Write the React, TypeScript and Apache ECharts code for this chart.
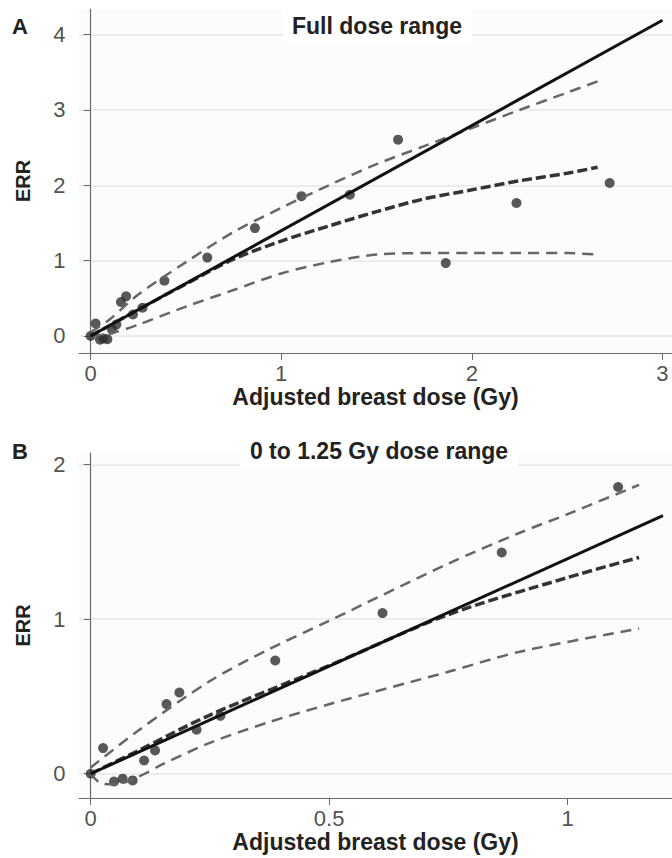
import React, { useEffect, useRef } from "react";
import * as echarts from "echarts";

// Observed data points (adjusted breast dose in Gy, ERR)
const lowDose = [0, 0.026, 0.049, 0.067, 0.088, 0.112, 0.135, 0.159, 0.186, 0.222, 0.272, 0.387, 0.612, 0.862, 1.106];
const lowErr = [0, 0.166, -0.05, -0.032, -0.043, 0.086, 0.151, 0.451, 0.526, 0.285, 0.375, 0.733, 1.04, 1.432, 1.856];
const highDose = [1.36, 1.613, 1.863, 2.234, 2.723];
const highErr = [1.875, 2.606, 0.967, 1.765, 2.03];

// Panel A fitted curves
const fullSolidX = [0, 3.0];
const fullSolidY = [0, 4.19];
const fullCurveX = [0, 0.1, 0.25, 0.5, 0.75, 1, 1.25, 1.5, 1.75, 2, 2.25, 2.5, 2.66];
const fullUpper = [0.05, 0.22, 0.55, 0.98, 1.38, 1.7, 2.0, 2.28, 2.52, 2.76, 3.0, 3.23, 3.38];
const fullCentral = [0, 0.14, 0.35, 0.69, 1.02, 1.26, 1.46, 1.65, 1.82, 1.94, 2.06, 2.16, 2.24];
const fullLower = [0, 0.03, 0.15, 0.39, 0.61, 0.83, 0.98, 1.08, 1.1, 1.1, 1.1, 1.1, 1.08];

// Panel B fitted curves
const lowSolidX = [0, 1.2];
const lowSolidY = [0, 1.67];
const lowUpperX = [0, 0.1, 0.25, 0.37, 0.5, 0.75, 0.9, 1.0, 1.15];
const lowUpper = [0.04, 0.28, 0.6, 0.8, 0.99, 1.36, 1.56, 1.68, 1.87];
const lowCentralX = [0, 0.1, 0.25, 0.5, 0.75, 1.0, 1.15];
const lowCentral = [0, 0.15, 0.38, 0.7, 1.03, 1.27, 1.4];
const lowLowerX = [0, 0.02, 0.05, 0.1, 0.15, 0.25, 0.37, 0.5, 0.75, 0.9, 1.15];
const lowLower = [0, -0.06, -0.07, -0.02, 0.06, 0.2, 0.33, 0.45, 0.66, 0.79, 0.94];

// Tick labels
const fullXTicks = [0, 1, 2, 3];
const fullYTicks = [0, 1, 2, 3, 4];
const lowXTicks = [0, 0.5, 1];
const lowYTicks = [0, 1, 2];

// Axis extents
const fullXRange = [-0.061, 3.05];
const fullYRange = [-0.226, 4.34];
const lowXRange = [-0.0245, 1.219];
const lowYRange = [-0.157, 2.076];

const FONT = "'Liberation Sans', Arial, Helvetica, sans-serif";

const zip = (xs: number[], ys: number[]) => xs.map((x, i) => [x, ys[i]]);

export default function App() {
  const ref = useRef<HTMLDivElement>(null);
  useEffect(() => {
    if (!ref.current) return;
    const chart = echarts.init(ref.current, null, { renderer: "svg" });

    const xAxisBase = (range: number[], ticks: number[], grid: number) => ({
      type: "value",
      gridIndex: grid,
      min: range[0],
      max: range[1],
      axisLine: { show: true, onZero: false, lineStyle: { color: "#6a6a6a", width: 1.2 } },
      axisTick: { show: true, customValues: ticks, length: 7, lineStyle: { color: "#6a6a6a" } },
      axisLabel: { show: false },
      splitLine: { show: false },
      name: "Adjusted breast dose (Gy)",
      nameLocation: "middle",
      nameGap: 32,
      nameTextStyle: { fontSize: 23, fontWeight: "bold", color: "#222", fontFamily: FONT, lineHeight: 24 },
    });
    const yAxisBase = (range: number[], ticks: number[], grid: number) => ({
      type: "value",
      gridIndex: grid,
      min: range[0],
      max: range[1],
      axisLine: { show: true, lineStyle: { color: "#6a6a6a", width: 1.2 } },
      axisTick: { show: true, customValues: ticks, length: 7, lineStyle: { color: "#6a6a6a" } },
      axisLabel: { show: false },
      splitLine: { show: true, lineStyle: { color: "#ececec", width: 2 } },
      name: "ERR",
      nameLocation: "middle",
      nameGap: 46,
      nameRotate: 90,
      nameTextStyle: { fontSize: 20, fontWeight: "bold", color: "#222", fontFamily: FONT },
    });

    const tickLabelSeries = (pts: number[][], xi: number, pos: string, dist: number, idx: number) => ({
      type: "scatter",
      xAxisIndex: xi,
      yAxisIndex: xi,
      data: pts,
      symbolSize: 1,
      silent: true,
      clip: false,
      itemStyle: { color: "rgba(0,0,0,0)" },
      label: {
        show: true,
        position: pos,
        distance: dist,
        formatter: (p: any) => String(p.value[idx]),
        fontSize: 22,
        lineHeight: 22,
        color: "#222",
        fontFamily: FONT,
      },
      z: 10,
    });

    const pointStyle = { color: "#2e2e2e" };
    const ciLine = (data: number[][], xi: number) => ({
      type: "line",
      xAxisIndex: xi,
      yAxisIndex: xi,
      data,
      smooth: 0.3,
      symbol: "none",
      lineStyle: { color: "#666", width: 2.5, type: [11, 7] },
      z: 3,
    });
    const centralLine = (data: number[][], xi: number) => ({
      type: "line",
      xAxisIndex: xi,
      yAxisIndex: xi,
      data,
      smooth: 0.3,
      symbol: "none",
      lineStyle: { color: "#333", width: 3.5, type: [10, 4] },
      z: 4,
    });
    const solidLine = (data: number[][], xi: number) => ({
      type: "line",
      xAxisIndex: xi,
      yAxisIndex: xi,
      data,
      symbol: "none",
      lineStyle: { color: "#111", width: 3 },
      z: 5,
    });

    chart.setOption({
      animation: false,
      backgroundColor: "#ffffff",
      grid: [
        { left: 79, top: 9, width: 593, height: 344, show: true, backgroundColor: "#fcfcfc", borderWidth: 0 },
        { left: 79, top: 453, width: 593, height: 345, show: true, backgroundColor: "#fcfcfc", borderWidth: 0 },
      ],
      xAxis: [xAxisBase(fullXRange, fullXTicks, 0), xAxisBase(lowXRange, lowXTicks, 1)],
      yAxis: [yAxisBase(fullYRange, fullYTicks, 0), yAxisBase(lowYRange, lowYTicks, 1)],
      graphic: [
        { type: "text", left: 12, top: 15, z: 100, style: { text: "A", fontSize: 22, fontWeight: "bold", fill: "#222", fontFamily: FONT } },
        { type: "text", left: 12, top: 440, z: 100, style: { text: "B", fontSize: 22, fontWeight: "bold", fill: "#222", fontFamily: FONT } },
        {
          type: "text", x: 377, y: 26, z: 100,
          style: { text: "Full dose range", fontSize: 23, fontWeight: "bold", fill: "#222", fontFamily: FONT, align: "center", verticalAlign: "middle", backgroundColor: "#ffffff", padding: [6, 10] },
        },
        {
          type: "text", x: 379, y: 451, z: 100,
          style: { text: "0 to 1.25 Gy dose range", fontSize: 23, fontWeight: "bold", fill: "#222", fontFamily: FONT, align: "center", verticalAlign: "middle", backgroundColor: "#ffffff", padding: [6, 10] },
        },
      ],
      series: [
        { type: "scatter", xAxisIndex: 0, yAxisIndex: 0, data: zip(lowDose, lowErr).concat(zip(highDose, highErr)), symbolSize: 10, itemStyle: pointStyle, z: 2 },
        ciLine(zip(fullCurveX, fullUpper), 0),
        ciLine(zip(fullCurveX, fullLower), 0),
        centralLine(zip(fullCurveX, fullCentral), 0),
        solidLine(zip(fullSolidX, fullSolidY), 0),
        { type: "scatter", xAxisIndex: 1, yAxisIndex: 1, data: zip(lowDose, lowErr), symbolSize: 10, itemStyle: pointStyle, z: 2 },
        ciLine(zip(lowUpperX, lowUpper), 1),
        ciLine(zip(lowLowerX, lowLower), 1),
        centralLine(zip(lowCentralX, lowCentral), 1),
        solidLine(zip(lowSolidX, lowSolidY), 1),
        tickLabelSeries(fullXTicks.map((t) => [t, fullYRange[0]]), 0, "bottom", 9, 0),
        tickLabelSeries(fullYTicks.map((t) => [fullXRange[0], t]), 0, "left", 13, 1),
        tickLabelSeries(lowXTicks.map((t) => [t, lowYRange[0]]), 1, "bottom", 9, 0),
        tickLabelSeries(lowYTicks.map((t) => [lowXRange[0], t]), 1, "left", 13, 1),
      ],
    });
    return () => chart.dispose();
  }, []);
  return <div ref={ref} style={{ position: "fixed", left: 0, top: 0, width: 672, height: 858 }} />;
}
